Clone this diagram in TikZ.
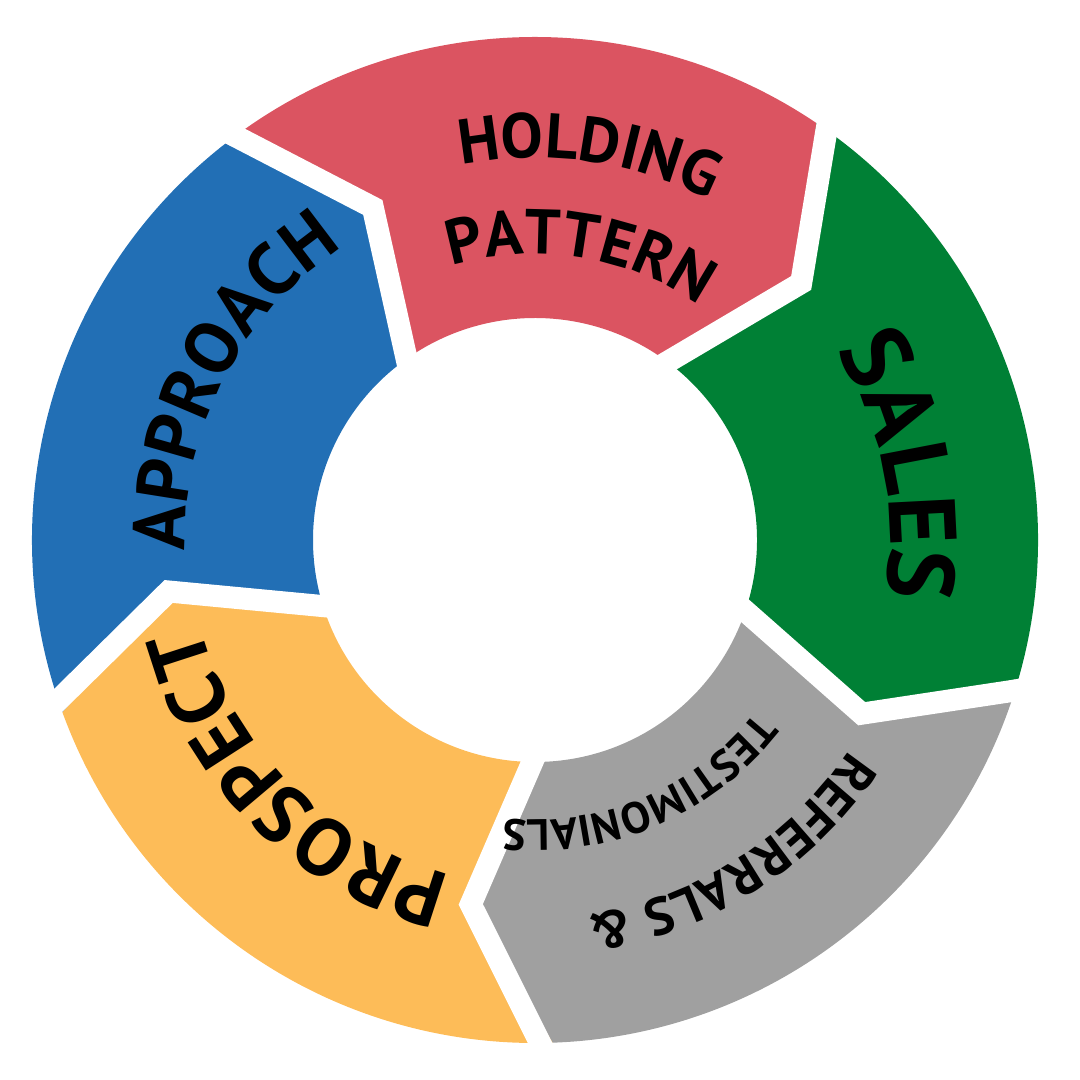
\documentclass[tikz,border=0pt]{standalone}
\usepackage{fontspec}
\setmainfont{PT Sans}
\usetikzlibrary{decorations.text}
\definecolor{cHold}{RGB}{219,84,97}
\definecolor{cSales}{RGB}{0,128,53}
\definecolor{cRef}{RGB}{160,160,160}
\definecolor{cPros}{RGB}{253,188,88}
\definecolor{cAppr}{RGB}{34,111,181}
\tikzset{
  seglabel/.style={decorate,decoration={text along path,text align=center,text={#1}}}
}
\newcommand{\myseg}[3]{%
  \fill[#1] (#2:5.03) arc[start angle=#2,end angle=#3,radius=5.03]
    -- ({#3-12}:3.7) -- (#3:2.22) arc[start angle=#3,end angle=#2,radius=2.22]
    -- ({#2-12}:3.7) -- cycle;}
\newcommand{\mycut}[1]{%
  \draw[white,line width=0.22cm,line join=miter] (#1:5.3) -- ({#1-12}:3.7) -- (#1:2.0);}
\begin{document}
\begin{tikzpicture}
\useasboundingbox (0,0) rectangle (10.8,10.8);
\begin{scope}[shift={(5.35,5.4)}]
\myseg{cHold}{128}{56}
\myseg{cSales}{56}{-16}
\myseg{cRef}{-16}{-88}
\myseg{cPros}{-88}{-160}
\myseg{cAppr}{-160}{-232}
\foreach \b in {128,56,-16,-88,-160}{\mycut{\b}}
\path[seglabel={|\fontsize{18}{18}\bfseries|HOLDING}] (122:3.82) arc[start angle=122,end angle=42,radius=3.82];
\path[seglabel={|\fontsize{18}{18}\bfseries|PATTERN}] (121:2.86) arc[start angle=121,end angle=41,radius=2.86];
\path[seglabel={|\fontsize{21}{21}\bfseries|APPROACH}] (205:3.5) arc[start angle=205,end angle=100,radius=3.5];
\path[seglabel={|\fontsize{27}{27}\bfseries|SALES}] (50:3.55) arc[start angle=50,end angle=-27,radius=3.55];
\path[seglabel={|\fontsize{15}{15}\bfseries|REFERRALS {\&}}] (0:3.78) arc[start angle=0,end angle=-116,radius=3.78];
\path[seglabel={|\fontsize{12.5}{12.5}\bfseries|TESTIMONIALS}] (-10:2.8) arc[start angle=-10,end angle=-124,radius=2.8];
\path[seglabel={|\fontsize{23}{23}\bfseries|PROSPECT}] (-82:3.45) arc[start angle=-82,end angle=-188,radius=3.45];
\end{scope}
\end{tikzpicture}
\end{document}
